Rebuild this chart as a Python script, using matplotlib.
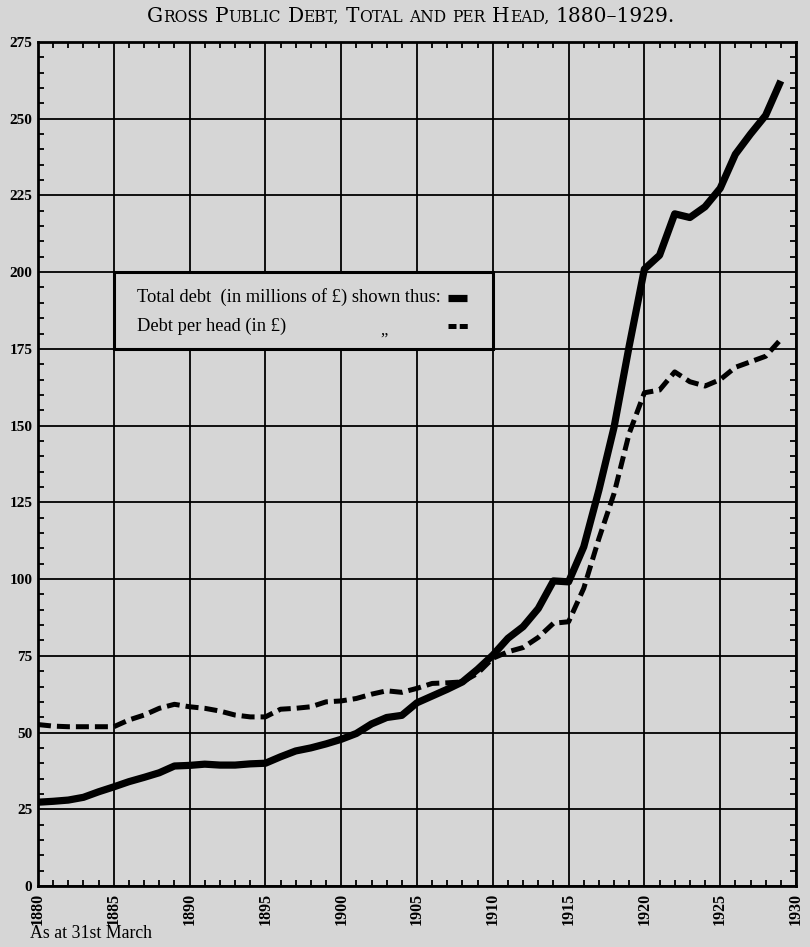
import matplotlib
matplotlib.use("Agg")
import matplotlib.pyplot as plt
from matplotlib.patches import Rectangle
from matplotlib.ticker import MultipleLocator, FixedLocator

# ---------------- data ----------------
years = list(range(1880, 1930))
total_debt = [27.3, 27.6, 28.0, 28.9, 30.7, 32.3, 34.0, 35.4, 36.9, 39.1,
              39.3, 39.7, 39.4, 39.4, 39.8, 40.0, 42.1, 44.0, 45.0, 46.3,
              47.8, 49.7, 52.8, 54.9, 55.6, 59.7, 61.9, 64.1, 66.5, 70.6,
              75.2, 80.7, 84.5, 90.4, 99.4, 99.1, 110.5, 129.0, 149.5, 176.0,
              201.0, 205.5, 219.0, 217.8, 221.3, 227.3, 238.4, 245.0, 251.1, 262.3]
debt_per_head = [52.6, 52.1, 51.9, 51.9, 51.9, 51.9, 54.1, 55.7, 57.9, 59.2,
                 58.4, 57.9, 57.0, 55.7, 55.1, 55.1, 57.6, 57.9, 58.4, 60.0,
                 60.3, 61.1, 62.5, 63.6, 63.1, 64.4, 66.0, 66.2, 66.5, 69.3,
                 74.2, 76.3, 77.7, 81.0, 85.6, 86.1, 97.0, 113.2, 127.9, 147.5,
                 160.7, 161.6, 167.5, 164.3, 162.9, 165.0, 169.0, 170.8, 172.6, 178.1]
x_ticks = list(range(1880, 1931, 5))
y_ticks = list(range(0, 276, 25))
legend_labels = ["Total debt  (in millions of £) shown thus:", "Debt per head (in £)"]
x_note = "As at 31st March"
# title as words of (text, is_large_cap) pieces (small caps)
title_words = [[("G", True), ("ROSS", False)],
               [("P", True), ("UBLIC", False)],
               [("D", True), ("EBT,", False)],
               [("T", True), ("OTAL", False)],
               [("AND", False)],
               [("PER", False)],
               [("H", True), ("EAD,", False)],
               [("1880–1929.", True)]]

# ---------------- style ----------------
BG = "#d6d6d6"
SERIF = ["Liberation Serif", "DejaVu Serif"]
TITLE_FONT = ["DejaVu Serif"]
plt.rcParams["font.family"] = SERIF

fig = plt.figure(figsize=(8.10, 9.47), dpi=100, facecolor=BG)
ax = fig.add_axes([0.0469, 0.0644, 0.9358, 0.8913], facecolor=BG)

ax.set_xlim(1880, 1930)
ax.set_ylim(0, 275)
ax.set_axisbelow(True)

# grid
ax.xaxis.set_major_locator(FixedLocator(x_ticks))
ax.yaxis.set_major_locator(FixedLocator(y_ticks))
ax.xaxis.set_minor_locator(MultipleLocator(1))
ax.yaxis.set_minor_locator(MultipleLocator(5))
ax.grid(True, which="major", color="black", linewidth=1.3)

ax.tick_params(which="major", length=0)
ax.tick_params(which="minor", direction="in", length=4.5, width=1.3,
               top=True, right=True, bottom=True, left=True, color="black")
ax.set_xticklabels([str(v) for v in x_ticks], rotation=90, fontsize=11.5,
                   fontweight="bold", va="top")
ax.set_yticklabels([str(v) for v in y_ticks], fontsize=11, fontweight="bold")
ax.tick_params(axis="y", which="major", pad=4)
ax.tick_params(axis="x", which="major", pad=5)

for s in ax.spines.values():
    s.set_linewidth(2.0)
    s.set_color("black")

# data lines
ax.plot(years, total_debt, color="black", linewidth=5.2,
        solid_joinstyle="round", solid_capstyle="butt", zorder=5)
ax.plot(years, debt_per_head, color="black", linewidth=3.6,
        linestyle=(0, (2.6, 1.2)), dash_joinstyle="round",
        dash_capstyle="butt", zorder=5)

# legend box (covers the grid cell 1885-1910 x 175-200)
box = Rectangle((1885, 175), 25, 25, facecolor=BG, edgecolor="black",
                linewidth=2.2, zorder=4)
ax.add_patch(box)
ax.text(1886.55, 191.8, legend_labels[0], fontsize=13.3, va="center",
        ha="left", zorder=6)
ax.text(1886.55, 182.2, legend_labels[1], fontsize=13.3, va="center",
        ha="left", zorder=6)
ax.text(1902.8, 179.8, "„", fontsize=12, ha="center", va="baseline", zorder=6)
ax.plot([1907.05, 1908.3], [191.6, 191.6], color="black", linewidth=5.2,
        solid_capstyle="butt", zorder=6)
ax.plot([1907.05, 1908.35], [182.3, 182.3], color="black", linewidth=3.6,
        linestyle=(0, (1.6, 0.65)), dash_capstyle="butt", zorder=6)

# note under the axis
fig.text(30 / 810, 1 - 933 / 947, x_note, fontsize=12.8, ha="left",
         va="center")

# small-caps title
renderer = fig.canvas.get_renderer()
BIG, SMALL = 14.5, 11.2


def measure(s, size):
    t = fig.text(0, 0, s, fontsize=size, family=TITLE_FONT)
    w = t.get_window_extent(renderer).width
    t.remove()
    return w


space_w = measure("x x", BIG) - measure("xx", BIG)
placed = []
total_w = 0.0
for wi, word in enumerate(title_words):
    if wi > 0:
        total_w += space_w
    for s, big in word:
        size = BIG if big else SMALL
        w = measure(s, size)
        placed.append((total_w, s, size))
        total_w += w

cx = 411.0
y_base = 1 - 22 / 947
x0 = cx - total_w / 2
for off, s, size in placed:
    fig.text((x0 + off) / fig.bbox.width, y_base, s, fontsize=size,
             family=TITLE_FONT, ha="left", va="baseline")

fig.savefig("out.png", dpi=100, facecolor=BG)
